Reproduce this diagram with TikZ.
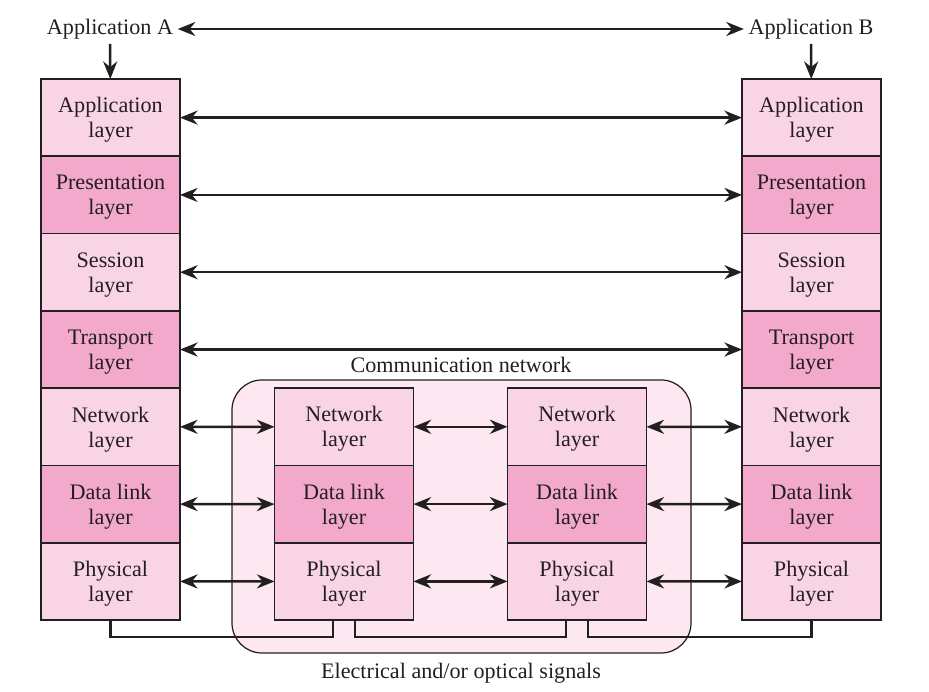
\documentclass[tikz,border=0pt]{standalone}
\usepackage{fontspec}
\setmainfont{Liberation Serif}
\usetikzlibrary{positioning,arrows.meta}

\definecolor{pinklite}{HTML}{F9D4E4}
\definecolor{pinkdark}{HTML}{F3A9CC}
\definecolor{pinkbg}{HTML}{FDE7F0}
\definecolor{inkgrey}{HTML}{231F20}

\tikzset{
  layer/.style={draw=inkgrey, line width=1pt, minimum width=2.78cm, minimum height=1.546cm,
    align=center, inner sep=0pt, outer sep=0pt, text depth=0pt, text=inkgrey, font=\fontsize{12.6}{14.2}\selectfont},
  lite/.style={layer, fill=pinklite},
  dark/.style={layer, fill=pinkdark},
  lbl/.style={inner sep=2.5pt, text=inkgrey, font=\fontsize{12.6}{14.2}\selectfont},
  dbl/.style={{Stealth[length=10pt,width=8pt]}-{Stealth[length=10pt,width=8pt]}, line width=1.4pt, draw=inkgrey},
  down/.style={-{Stealth[length=10pt,width=8pt]}, line width=1.4pt, draw=inkgrey},
  wire/.style={line width=1.4pt, draw=inkgrey}
}

\begin{document}
\begin{tikzpicture}

\useasboundingbox (0,0) rectangle (18.58,-13.84);

% communication network
\draw[fill=pinkbg, draw=inkgrey, line width=0.7pt, rounded corners=0.6cm] (4.64,-7.6) rectangle (13.82,-13.06);
\node[lbl] (comm) at (9.22,-7.3) {Communication network};
\node[lbl] (signals) at (9.22,-13.47) {Electrical and/or optical signals};

% end systems
\foreach \s/\x in {A/2.21, B/16.23} {
  \node[lite] (app\s) at (\x,-2.353) {Application\\layer};
  \node[dark, below=0pt of app\s] (pres\s) {Presentation\\layer};
  \node[lite, below=0pt of pres\s] (sess\s) {Session\\layer};
  \node[dark, below=0pt of sess\s] (trans\s) {Transport\\layer};
  \node[lite, below=0pt of trans\s] (net\s) {Network\\layer};
  \node[dark, below=0pt of net\s] (link\s) {Data link\\layer};
  \node[lite, below=0pt of link\s] (phys\s) {Physical\\layer};
}

% intermediate nodes
\foreach \s/\x in {M1/6.88, M2/11.54} {
  \node[lite] (net\s) at (\x,-8.536) {Network\\layer};
  \node[dark, below=0pt of net\s] (link\s) {Data link\\layer};
  \node[lite, below=0pt of link\s] (phys\s) {Physical\\layer};
}

\node[lbl] (userA) at (2.2,-0.58) {Application A};
\node[lbl] (userB) at (16.22,-0.58) {Application B};
\draw[dbl] (userA) -- (userB);
\draw[down] (userA) -- (appA);
\draw[down] (userB) -- (appB);

% peer protocols
\foreach \r in {app,pres,sess,trans}
  \draw[dbl] (\r A) -- (\r B);
\foreach \r in {net,link,phys} {
  \draw[dbl] (\r A) -- (\r M1);
  \draw[dbl] (\r M1) -- (\r M2);
  \draw[dbl] (\r M2) -- (\r B);
}

% signals
\draw[wire] (physA.south) |- ([xshift=-0.22cm, yshift=-0.34cm]physM1.south) -- ([xshift=-0.22cm]physM1.south);
\draw[wire] ([xshift=0.22cm]physM1.south) |- ([xshift=-0.22cm, yshift=-0.34cm]physM2.south) -- ([xshift=-0.22cm]physM2.south);
\draw[wire] ([xshift=0.22cm]physM2.south) |- ([yshift=-0.34cm]physB.south) -- (physB.south);

\end{tikzpicture}
\end{document}
